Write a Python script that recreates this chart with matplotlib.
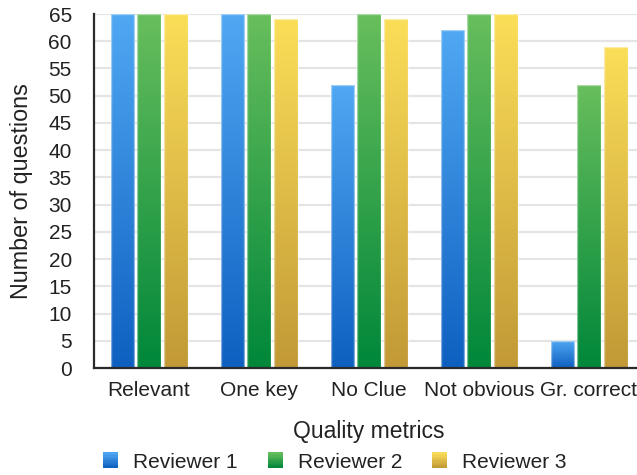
import numpy as np
import matplotlib
matplotlib.use("Agg")
import matplotlib.pyplot as plt
from matplotlib.colors import LinearSegmentedColormap, to_rgb
from matplotlib.patches import Rectangle
from matplotlib.legend_handler import HandlerBase

categories = ["Relevant", "One key", "No Clue", "Not obvious", "Gr. correct"]
series_names = ["Reviewer 1", "Reviewer 2", "Reviewer 3"]
reviewer1 = [65, 65, 52, 62, 5]
reviewer2 = [65, 65, 65, 65, 52]
reviewer3 = [65, 64, 64, 65, 59]
y_ticks = list(range(0, 70, 5))

# (top colour, bottom colour) for each series gradient
gradients = [("#50a8f3", "#0e60c0"),
             ("#68be5c", "#00873a"),
             ("#fbde58", "#c29936")]

plt.rcParams["font.family"] = ["Liberation Sans", "DejaVu Sans"]

fig = plt.figure(figsize=(6.37, 4.75), dpi=100)
ax = fig.add_axes([94 / 637, 1 - 368 / 475, 550 / 637, 354 / 475])

x = np.arange(len(categories))
width = 0.21
offset = 0.245
values = [reviewer1, reviewer2, reviewer3]

grad = np.linspace(0, 1, 256).reshape(-1, 1)
for i, (vals, (top, bot)) in enumerate(zip(values, gradients)):
    cmap = LinearSegmentedColormap.from_list(f"g{i}", [bot, top])
    bars = ax.bar(x + (i - 1) * offset, vals, width, facecolor="none",
                  edgecolor=(1, 1, 1, 0.45), linewidth=1.0, zorder=3)
    for b in bars:
        bx, by = b.get_x(), b.get_y()
        bw, bh = b.get_width(), b.get_height()
        im = ax.imshow(grad, cmap=cmap, origin="lower", aspect="auto",
                       extent=(bx, bx + bw, by, by + bh), zorder=2,
                       interpolation="bilinear")
        im.set_clip_path(b)

ax.set_xlim(-0.5, 4.5)
ax.set_ylim(0, 65)
ax.set_yticks(y_ticks)
ax.set_xticks(x)
ax.set_xticklabels(categories)
ax.tick_params(axis="both", length=0, labelsize=15, colors="#222222")
ax.tick_params(axis="y", pad=16)
ax.tick_params(axis="x", pad=9)
ax.yaxis.grid(True, color="#e4e4e4", linewidth=1.6, zorder=0)
ax.set_axisbelow(True)
for s in ("top", "right"):
    ax.spines[s].set_visible(False)
for s in ("left", "bottom"):
    ax.spines[s].set_color("#2a2a2a")
    ax.spines[s].set_linewidth(1.6)
    ax.spines[s].set_zorder(5)

ax.set_ylabel("Number of questions", fontsize=16.8, color="#222222")
ax.set_xlabel("Quality metrics", fontsize=16.5, color="#222222", labelpad=15)
ax.yaxis.set_label_coords((33 - 94) / 550, 0.5)


class GradientHandler(HandlerBase):
    def __init__(self, top, bot):
        super().__init__()
        self.top = np.array(to_rgb(top))
        self.bot = np.array(to_rgb(bot))

    def create_artists(self, legend, orig_handle, xdescent, ydescent,
                       width, height, fontsize, trans):
        n = 12
        artists = []
        for k in range(n):
            t = (k + 0.5) / n
            c = self.bot * (1 - t) + self.top * t
            artists.append(Rectangle((-xdescent, -ydescent + height * k / n),
                                     width, height / n + 0.3, facecolor=c,
                                     edgecolor="none", transform=trans))
        return artists


handles = [Rectangle((0, 0), 1, 1) for _ in series_names]
fig.legend(handles, series_names, loc="center",
           bbox_to_anchor=(335 / 637, 1 - 462 / 475), ncol=3, frameon=False,
           fontsize=15, handlelength=0.72, handleheight=0.72,
           handletextpad=0.72, columnspacing=1.45, borderpad=0,
           labelcolor="#222222",
           handler_map={h: GradientHandler(t, b)
                        for h, (t, b) in zip(handles, gradients)})

fig.savefig("out.png", dpi=100)
